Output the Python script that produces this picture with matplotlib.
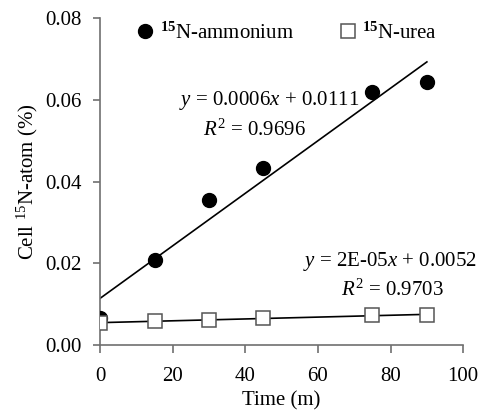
import numpy as np
import matplotlib.pyplot as plt

plt.rcParams['font.family'] = 'Liberation Serif'
plt.rcParams['mathtext.fontset'] = 'custom'
plt.rcParams['mathtext.rm'] = 'Liberation Serif'
plt.rcParams['mathtext.it'] = 'Liberation Serif:italic'
plt.rcParams['mathtext.bf'] = 'Liberation Serif:bold'

time = [0, 15, 30, 45, 75, 90]
ammonium = [0.0066, 0.0208, 0.0354, 0.0433, 0.0619, 0.0644]
urea = [0.0053, 0.0059, 0.0061, 0.0065, 0.0073, 0.0073]

fig = plt.figure(figsize=(4.79, 4.13), dpi=100)
ax = fig.add_axes([0.209, 0.165, 0.758, 0.791])

# trend lines (least squares)
xs = np.array([min(time), max(time)])
for ys in (ammonium, urea):
    k, b = np.polyfit(time, ys, 1)
    ax.plot(xs, k * xs + b, color='black', lw=1.2, zorder=2)

ax.plot(time, ammonium, 'o', color='black', ms=10, zorder=3,
        label=r'$^{\mathbf{15}}$N-ammonium')
ax.plot(time, urea, 's', mfc='white', mec='#555555', mew=1.1, ms=10, zorder=3,
        label=r'$^{\mathbf{15}}$N-urea')

fs = 15
ax.text(46.5, 0.0599, r'$y$ = 0.0006$x$ + 0.0111', ha='center', va='center', fontsize=fs)
ax.text(42.4, 0.0526, r'$R^2$ = 0.9696', ha='center', va='center', fontsize=fs)
ax.text(79.8, 0.0203, r'$y$ = 2E-05$x$ + 0.0052', ha='center', va='center', fontsize=fs,
        clip_on=False)
ax.text(80.4, 0.0135, r'$R^2$ = 0.9703', ha='center', va='center', fontsize=fs)

ax.set_xlim(0, 100)
ax.set_ylim(0, 0.08)
ax.set_xticks([0, 20, 40, 60, 80, 100])
ax.set_yticks([0, 0.02, 0.04, 0.06, 0.08])
ax.set_yticklabels(['0.00', '0.02', '0.04', '0.06', '0.08'])
ax.tick_params(labelsize=fs, color='#707070', direction='out', length=5, width=1.2, pad=8)
ax.tick_params(axis='x', length=6, pad=10)
for s in ('top', 'right'):
    ax.spines[s].set_visible(False)
for s in ('left', 'bottom'):
    ax.spines[s].set_color('#707070')
    ax.spines[s].set_linewidth(1.2)

ax.set_xlabel('Time (m)', fontsize=fs, labelpad=4)
ax.set_ylabel(r'Cell $^{15}$N-atom (%)', fontsize=fs, labelpad=4)

ax.legend(loc='upper left', bbox_to_anchor=(0.015, 1.045), ncol=2, frameon=False,
          fontsize=fs, handletextpad=-0.3, columnspacing=1.6, markerscale=1.0)

fig.savefig('out.png', dpi=100)
